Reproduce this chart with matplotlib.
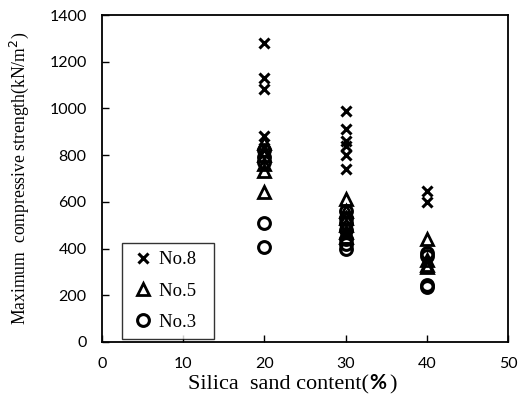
import matplotlib
matplotlib.use("Agg")
import matplotlib.pyplot as plt

# silica sand content (%) and max compressive strength (kN/m2) per sample group
sand_no8 = [20, 20, 20, 20, 20, 30, 30, 30, 30, 30, 30, 40, 40]
strength_no8 = [1280, 1130, 1085, 880, 830, 990, 910, 860, 840, 800, 740, 645, 600]

sand_no5 = [20, 20, 20, 20, 20, 30, 30, 30, 30, 30, 30, 40, 40, 40, 40]
strength_no5 = [850, 800, 760, 730, 640, 610, 560, 530, 500, 470, 450, 440, 350, 330, 320]

sand_no3 = [20, 20, 20, 20, 20, 30, 30, 30, 30, 30, 30, 30, 40, 40, 40, 40]
strength_no3 = [820, 790, 770, 510, 405, 560, 530, 510, 480, 440, 420, 400, 380, 370, 245, 235]

serif = "Liberation Serif"
sans = "Lato"

fig = plt.figure(figsize=(5.25, 4.07), dpi=100)
ax = fig.add_axes([0.194, 0.160, 0.774, 0.803])

ax.plot(sand_no8, strength_no8, linestyle="none", marker="x", ms=7.5, mew=2.2,
        color="black", label="No.8  ")
ax.plot(sand_no5, strength_no5, linestyle="none", marker="^", ms=8, mew=2,
        mfc="none", mec="black", label="No.5  ")
ax.plot(sand_no3, strength_no3, linestyle="none", marker="o", ms=8.5, mew=2.2,
        mfc="none", mec="black", label="No.3  ")

ax.set_xlim(0, 50)
ax.set_ylim(0, 1400)
ax.set_xticks(range(0, 51, 10))
ax.set_yticks(range(0, 1401, 200))
ax.tick_params(direction="in", length=5, width=1, labelsize=11.5)
ax.tick_params(axis="y", pad=11)
ax.tick_params(axis="x", pad=11)
for lab in ax.get_xticklabels() + ax.get_yticklabels():
    lab.set_fontfamily(sans)
for s in ax.spines.values():
    s.set_linewidth(1.3)

ax.set_ylabel(r"Maximum  compressive strength(kN/m$^2$)", family=serif,
              fontsize=12.7, labelpad=13)

# x label: serif text with a bold sans percent sign
fig.text(0.703, 0.044, "Silica  sand content(", family=serif, fontsize=16,
         ha="right", va="baseline")
fig.text(0.703, 0.044, "%", family=sans, fontsize=15, weight="bold",
         ha="left", va="baseline")
fig.text(0.741, 0.044, ")", family=serif, fontsize=16, ha="left", va="baseline")

leg = ax.legend(loc="lower left", bbox_to_anchor=(0.049, 0.008), borderaxespad=0,
                frameon=True, fancybox=False, edgecolor="black",
                handlelength=1.4, handletextpad=0.15, borderpad=0.45,
                labelspacing=0.75, prop={"family": serif, "size": 13.5})
leg.get_frame().set_linewidth(1.0)

fig.savefig("out.png", dpi=100)
